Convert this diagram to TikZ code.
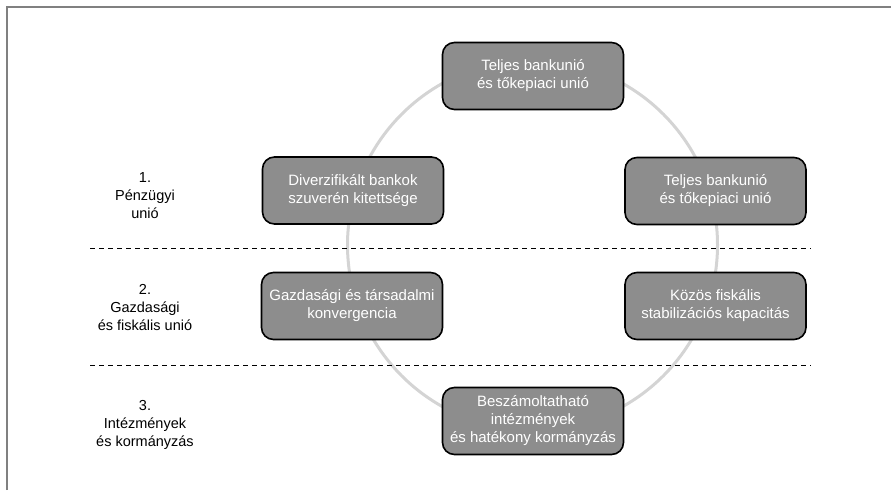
\documentclass[tikz,border=0pt]{standalone}
\usepackage{fontspec}
\setmainfont{Liberation Sans}
\usepackage{tikz}
\usetikzlibrary{positioning}
\definecolor{boxgray}{RGB}{141,141,141}
\definecolor{ringgray}{RGB}{212,212,212}
\definecolor{framegray}{RGB}{128,128,128}
\tikzstyle{pillar} = [rectangle, draw, line width=1.6pt, fill=boxgray, text=white,
    align=center, rounded corners=12pt, minimum width=181pt, minimum height=67pt,
    inner sep=2pt, font=\fontsize{15}{18}\selectfont]
\tikzstyle{stage} = [align=center, font=\fontsize{14.5}{18}\selectfont]
\tikzstyle{divider} = [draw, line width=0.9pt, dash pattern=on 5pt off 4pt]

\begin{document}
\begin{tikzpicture}[x=1pt, y=-1pt]
        \useasboundingbox (0,0) rectangle (891,490);
            % Frame
        \draw[framegray, line width=1.4pt] (7,490) -- (7,7) -- (891,7);
            % Ring
        \coordinate (hub) at (532.5,245);
        \draw[ringgray, line width=3pt] (hub) circle (185pt);
            % Dividers
        \coordinate (d1l) at (90,248);
        \coordinate (d1r) at (811,248);
        \coordinate (d2l) at (90,365);
        \coordinate (d2r) at (811,365);
        \path [divider] (d1l) -- (d1r);
        \path [divider] (d2l) -- (d2r);
            % Nodes
        \node [pillar] (top) at (533,76) {Teljes bankunió\\és tőkepiaci unió};
        \node [pillar] (divers) at (353,190.5) {Diverzifikált bankok\\szuverén kitettsége};
        \node [pillar] (bank) at (715.5,191) {Teljes bankunió\\és tőkepiaci unió};
        \node [pillar] (conv) at (352,306) {Gazdasági és társadalmi\\konvergencia};
        \node [pillar] (fisc) at (715.5,306) {Közös fiskális\\stabilizációs kapacitás};
        \node [pillar] (gov) at (533,421) {Beszámoltatható\\intézmények\\és hatékony kormányzás};
            % Stages
        \node [stage] (st1) at (145,196) {1.\\Pénzügyi\\unió};
        \node [stage] (st2) at (145,308) {2.\\Gazdasági\\és fiskális unió};
        \node [stage] (st3) at (145,425) {3.\\Intézmények\\és kormányzás};
    \end{tikzpicture}
\end{document}
